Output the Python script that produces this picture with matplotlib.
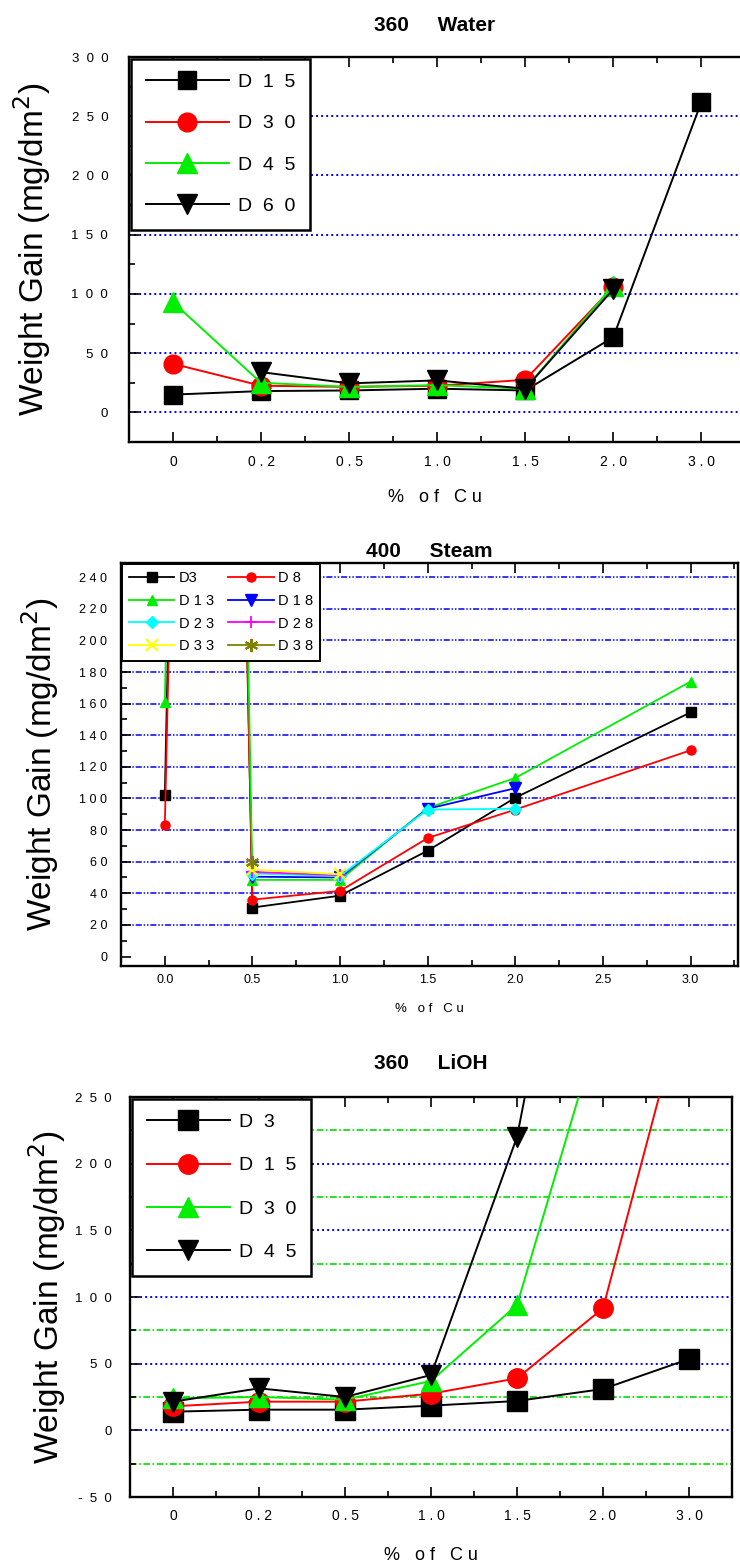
import matplotlib
matplotlib.use("Agg")
import matplotlib.pyplot as plt
from matplotlib.ticker import MultipleLocator, FixedLocator

plt.rcParams['font.family'] = ['Liberation Sans', 'DejaVu Sans']

# ---------------- Panel 1 : 360 Water ----------------
w_cats = ["0", "0 . 2", "0 . 5", "1 . 0", "1 . 5", "2 . 0", "3 . 0"]
w_D15 = [15, 18, 18.5, 20, 18.5, 63.5, 262]
w_D30 = [41, 22.5, 21.5, 22.5, 27.5, 106, None]
w_D45 = [93, 25, 21.5, 23, 20, 107, None]
w_D60 = [None, 34, 24.5, 27, 20, 104, None]
w_yticks = [0, 50, 100, 150, 200, 250, 300]

# ---------------- Panel 2 : 400 Steam ----------------
s_x_D3 = [0.0, 0.25, 0.5, 1.0, 1.5, 2.0, 3.0]
s_D3 = [102, 1400, 31, 38.5, 67, 100.5, 154.5]
s_x_D8 = [0.0, 0.25, 0.5, 1.0, 1.5, 2.0, 3.0]
s_D8 = [83, 1300, 36, 41.5, 75, 93, 130.5]
s_x_D13 = [0.0, 0.25, 0.5, 1.0, 1.5, 2.0, 3.0]
s_D13 = [161, 1500, 48.5, 48.5, 94, 113, 174]
s_x_D18 = [0.5, 1.0, 1.5, 2.0]
s_D18 = [50.5, 50, 93.5, 106.5]
s_x_D23 = [0.5, 1.0, 1.5, 2.0]
s_D23 = [52.5, 51, 93, 93.5]
s_x_D28 = [0.5, 1.0]
s_D28 = [53.5, 51.5]
s_x_D33 = [0.5, 1.0]
s_D33 = [55, 52]
s_x_D38 = [0.5]
s_D38 = [60]
s_xticks = [0.0, 0.5, 1.0, 1.5, 2.0, 2.5, 3.0]
s_yticks = [0, 20, 40, 60, 80, 100, 120, 140, 160, 180, 200, 220, 240]

# ---------------- Panel 3 : 360 LiOH ----------------
l_cats = ["0", "0 . 2", "0 . 5", "1 . 0", "1 . 5", "2 . 0", "3 . 0"]
l_D3 = [14, 15.5, 15.5, 18.5, 22, 31, 53.5]
l_D15 = [18, 21.5, 21.5, 27.5, 39, 91.5, 335]
l_D30 = [24, 25, 23, 37, 94, 312, None]
l_D45 = [21.5, 31.5, 25, 41.5, 220, 550, None]
l_yticks = [-50, 0, 50, 100, 150, 200, 250]

W, H = 740, 1566
fig = plt.figure(figsize=(W / 100, H / 100), dpi=100)


def ax_at(l, t, r, b):
    return fig.add_axes([l / W, 1 - b / H, (r - l) / W, (b - t) / H])


def spaced(s, sep=" "):
    return sep.join(list(s))


def style_ticks(ax):
    ax.tick_params(which='both', direction='in', top=True, right=False,
                   colors='black', width=1.2)
    ax.tick_params(which='major', length=7)
    ax.tick_params(which='minor', length=4)
    for sp in ax.spines.values():
        sp.set_linewidth(1.7)


def cat_series(ax, vals, **kw):
    xs = [i for i, v in enumerate(vals) if v is not None]
    ys = [v for v in vals if v is not None]
    return ax.plot(xs, ys, **kw)[0]


ylab = "Weight Gain (mg/dm$^2$)"
dot_blue = dict(color='#0000ff', linestyle=(0, (1, 1.6)), linewidth=1.4, zorder=1)

# ===== Panel 1 =====
ax1 = ax_at(129, 57, 741, 442)
ax1.set_xlim(-0.5, 6.45)
ax1.set_ylim(-25, 300)
for g in [0, 50, 100, 150, 200, 250]:
    ax1.axhline(g, **dot_blue)
ms1 = 13.5
cat_series(ax1, w_D15, color='black', marker='s', markersize=ms1, lw=1.4, label=spaced("D15", "  "), zorder=3)
cat_series(ax1, w_D30, color='#ff0000', marker='o', markersize=ms1, lw=1.4, label=spaced("D30", "  "), zorder=3)
cat_series(ax1, w_D45, color='#00ee00', marker='^', markersize=ms1 + 1, lw=1.4, label=spaced("D45", "  "), zorder=3)
cat_series(ax1, w_D60, color='black', marker='v', markersize=ms1 + 1, lw=1.4, label=spaced("D60", "  "), zorder=3)
ax1.xaxis.set_major_locator(FixedLocator(range(7)))
ax1.xaxis.set_minor_locator(FixedLocator([i + 0.5 for i in range(6)]))
ax1.set_xticklabels(w_cats, fontsize=10)
ax1.yaxis.set_major_locator(FixedLocator(w_yticks))
ax1.yaxis.set_minor_locator(MultipleLocator(25))
ax1.set_yticklabels([spaced(str(v), "  ") for v in w_yticks], fontsize=9.5)
style_ticks(ax1)
ax1.spines['right'].set_visible(False)
ax1.tick_params(axis='x', pad=9)
ax1.tick_params(axis='y', pad=15)
ax1.set_ylabel(ylab, fontsize=24, labelpad=13)
ax1.set_xlabel("%   o f   C u", fontsize=13, labelpad=15)
ax1.set_title("360     Water", fontsize=15, fontweight='bold', pad=19)
leg1 = ax1.legend(loc='upper left', fontsize=14, handlelength=4.3, handletextpad=0.45,
                  labelspacing=1.22, borderpad=0.75, borderaxespad=0.1,
                  fancybox=False, edgecolor='black', framealpha=1)
leg1.get_frame().set_linewidth(1.8)
leg1.set_zorder(5)

# ===== Panel 2 =====
ax2 = ax_at(121, 563, 738, 966)
ax2.set_xlim(-0.25, 3.27)
ax2.set_ylim(-6, 249)
for g in s_yticks[1:]:
    ax2.axhline(g, color='#0000ff', linestyle=(0, (4, 1.2, 1, 1.2, 1, 1.2)), linewidth=1.1, zorder=1)
ms2 = 6.5
lw2 = 1.3
l_D3h, = ax2.plot(s_x_D3, s_D3, color='black', marker='s', ms=ms2, lw=lw2, label="D3", zorder=3)
l_D8h, = ax2.plot(s_x_D8, s_D8, color='#ff0000', marker='o', ms=ms2, lw=lw2, label=spaced("D8"), zorder=3)
l_D13h, = ax2.plot(s_x_D13, s_D13, color='#00ee00', marker='^', ms=ms2 + 1, lw=lw2, label=spaced("D13"), zorder=3)
l_D18h, = ax2.plot(s_x_D18, s_D18, color='#0000ff', marker='v', ms=ms2 + 2, lw=lw2, label=spaced("D18"), zorder=3)
l_D23h, = ax2.plot(s_x_D23, s_D23, color='#00ffff', marker='D', ms=ms2, lw=lw2, label=spaced("D23"), zorder=3)
l_D28h, = ax2.plot(s_x_D28, s_D28, color='#ff00ff', marker='+', ms=ms2 + 2, mew=1.3, lw=lw2, label=spaced("D28"), zorder=3)
l_D33h, = ax2.plot(s_x_D33, s_D33, color='#ffff00', marker='x', ms=ms2 + 2, mew=1.5, lw=lw2, label=spaced("D33"), zorder=3)
l_D38h, = ax2.plot(s_x_D38, s_D38, color='#808000', marker=(6, 2, 0), ms=ms2 + 3, mew=1.5, lw=lw2, label=spaced("D38"), zorder=3)
ax2.set_xticks(s_xticks)
ax2.xaxis.set_minor_locator(MultipleLocator(0.25))
ax2.set_xticklabels([f"{v:.1f}" for v in s_xticks], fontsize=9)
ax2.set_yticks(s_yticks)
ax2.yaxis.set_minor_locator(MultipleLocator(10))
ax2.set_yticklabels([spaced(str(v)) for v in s_yticks], fontsize=9)
style_ticks(ax2)
ax2.tick_params(axis='x', pad=6)
ax2.tick_params(axis='y', pad=10)
ax2.set_ylabel(ylab, fontsize=24, labelpad=13)
ax2.set_xlabel("%   o f   C u", fontsize=9.5, labelpad=12)
ax2.set_title("400     Steam", fontsize=15, fontweight='bold', pad=4)
order = [l_D3h, l_D13h, l_D23h, l_D33h, l_D8h, l_D18h, l_D28h, l_D38h]
leg2 = ax2.legend(order, [h.get_label() for h in order], loc='upper left', ncol=2,
                  fontsize=10.5, handlelength=3.1, handletextpad=0.3,
                  labelspacing=0.6, columnspacing=1.0, borderpad=0.5, borderaxespad=0.05,
                  fancybox=False, edgecolor='black', framealpha=1)
leg2.get_frame().set_linewidth(1.4)
leg2.set_zorder(5)

# ===== Panel 3 =====
ax3 = ax_at(130, 1097, 732, 1497)
ax3.set_xlim(-0.5, 6.5)
ax3.set_ylim(-50, 250)
for g in [0, 50, 100, 150, 200]:
    ax3.axhline(g, **dot_blue)
for g in [-25, 25, 75, 125, 175, 225]:
    ax3.axhline(g, color='#00dd00', linestyle=(0, (4, 1.5, 1, 1.5)), linewidth=1.2, zorder=1)
ms3 = 14
cat_series(ax3, l_D3, color='black', marker='s', markersize=ms3, lw=1.4, label=spaced("D3", "  "), zorder=3)
cat_series(ax3, l_D15, color='#ff0000', marker='o', markersize=ms3, lw=1.4, label=spaced("D15", "  "), zorder=3)
cat_series(ax3, l_D30, color='#00ee00', marker='^', markersize=ms3 + 1, lw=1.4, label=spaced("D30", "  "), zorder=3)
cat_series(ax3, l_D45, color='black', marker='v', markersize=ms3 + 1, lw=1.4, label=spaced("D45", "  "), zorder=3)
ax3.xaxis.set_major_locator(FixedLocator(range(7)))
ax3.xaxis.set_minor_locator(FixedLocator([i + 0.5 for i in range(6)]))
ax3.set_xticklabels(l_cats, fontsize=10)
ax3.yaxis.set_major_locator(FixedLocator(l_yticks))
ax3.yaxis.set_minor_locator(MultipleLocator(25))
ax3.set_yticklabels([spaced(str(v), "  ") for v in l_yticks], fontsize=9.5)
style_ticks(ax3)
ax3.tick_params(axis='x', pad=9)
ax3.tick_params(axis='y', pad=13)
ax3.set_ylabel(ylab, fontsize=24, labelpad=5)
ax3.set_xlabel("%   o f   C u", fontsize=13, labelpad=17)
ax3.set_title("360     LiOH", fontsize=15, fontweight='bold', pad=20)
leg3 = ax3.legend(loc='upper left', fontsize=14, handlelength=4.3, handletextpad=0.45,
                  labelspacing=1.32, borderpad=0.75, borderaxespad=0.1,
                  fancybox=False, edgecolor='black', framealpha=1)
leg3.get_frame().set_linewidth(1.8)
leg3.set_zorder(5)

fig.savefig("out.png", dpi=100)
